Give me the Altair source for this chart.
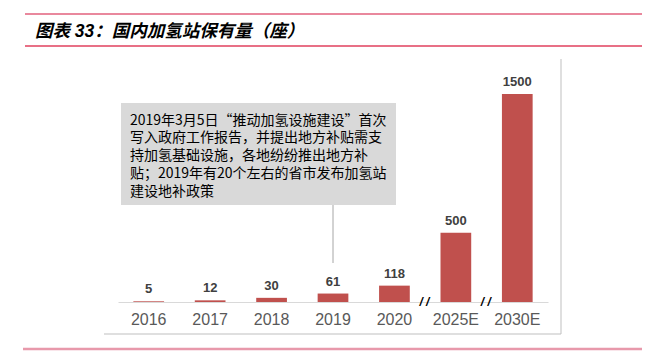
import altair as alt
import pandas as pd

# ---- data ----
years = ["2016", "2017", "2018", "2019", "2020", "2025E", "2030E"]
stations = [5, 12, 30, 61, 118, 500, 1500]
break_after = ["2020", "2025E"]
title_text = "图表 33：国内加氢站保有量（座）"
note_lines = [
    "2019年3月5日“推动加氢设施建设”首次",
    "写入政府工作报告，并提出地方补贴需支",
    "持加氢基础设施，各地纷纷推出地方补",
    "贴；2019年有20个左右的省市发布加氢站",
    "建设地补政策",
]
note_year = "2019"

FONT = '"Liberation Sans", "Noto Sans CJK SC", sans-serif'
CJK = '"Liberation Sans", "Noto Sans CJK SC", sans-serif'
NOTE_FONT = '"Noto Sans CJK SC", "Liberation Sans", sans-serif'

df = pd.DataFrame({"year": years, "n": stations})

x_enc = alt.X(
    "year:N",
    sort=years,
    scale=alt.Scale(paddingInner=0.5, paddingOuter=0.25),
    axis=alt.Axis(
        title=None,
        labelAngle=0,
        labelAlign="center",
        labelBaseline="top",
        labelFontSize=16,
        labelColor="#595959",
        labelFont=FONT,
        labelPadding=9,
        ticks=False,
        domainColor="#d9d9d9",
        domainWidth=1,
        grid=False,
    ),
)
y_enc = alt.Y(
    "n:Q",
    scale=alt.Scale(domain=[0, 1500], nice=False),
    axis=None,
)

base = alt.Chart(df)
bars = base.mark_bar(color="#C0504D").encode(x=x_enc, y=y_enc)
labels = base.mark_text(
    baseline="bottom", dy=-5, fontSize=13, fontWeight="bold", color="#404040", font=FONT
).encode(x=alt.X("year:N", sort=years), y="n:Q", text="n:Q")

# axis break marks
brk = alt.Chart(pd.DataFrame({"year": break_after, "n": [0, 0]})).mark_text(
    text="/ /", dx=30, fontSize=12, fontWeight="bold", fontStyle="italic",
    color="#000000", font=FONT, baseline="middle"
).encode(x=alt.X("year:N", sort=years), y="n:Q")

# annotation box + connector
box = alt.Chart(pd.DataFrame({"k": [0]})).mark_rect(color="#d9d9d9").encode(
    x=alt.value(3), x2=alt.value(278), y=alt.value(9), y2=alt.value(111)
)
note = alt.Chart(pd.DataFrame({"t": ["\n".join(note_lines)]})).mark_text(
    align="left", baseline="top", fontSize=14, lineHeight=17.8, color="#000000",
    font=NOTE_FONT, lineBreak="\n"
).encode(x=alt.value(12), y=alt.value(19.5), text="t:N")
connector = alt.Chart(pd.DataFrame({"year": [note_year]})).mark_rule(
    color="#a6a6a6", strokeWidth=1
).encode(x=alt.X("year:N", sort=years), y=alt.value(111), y2=alt.value(169))

# frame lines
frame_b = alt.Chart(pd.DataFrame({"k": [0]})).mark_rule(color="#bfbfbf", strokeWidth=1).encode(
    x=alt.value(-14), x2=alt.value(443), y=alt.value(240)
)
frame_r = alt.Chart(pd.DataFrame({"k": [0]})).mark_rule(color="#bfbfbf", strokeWidth=1).encode(
    x=alt.value(443), y=alt.value(-35), y2=alt.value(240)
)
top1 = alt.Chart(pd.DataFrame({"k": [0]})).mark_rule(color="#e2607c", strokeWidth=1.5).encode(
    x=alt.value(-93), x2=alt.value(524), y=alt.value(-80)
)
top2 = alt.Chart(pd.DataFrame({"k": [0]})).mark_rule(color="#e0405e", strokeWidth=1.5).encode(
    x=alt.value(-93), x2=alt.value(524), y=alt.value(-48)
)
bot = alt.Chart(pd.DataFrame({"k": [0]})).mark_rule(color="#e899ab", strokeWidth=2.5).encode(
    x=alt.value(-95), x2=alt.value(524), y=alt.value(255)
)
title = alt.Chart(pd.DataFrame({"t": [title_text]})).mark_text(
    align="left", baseline="middle", fontSize=17.5, fontWeight="bold", fontStyle="italic",
    color="#000000", font=CJK
).encode(x=alt.value(-83), y=alt.value(-62), text="t:N")

chart = alt.layer(
    box, note, connector, bars, labels, brk, frame_b, frame_r, top1, top2, bot, title
).properties(
    width=430,
    height=208,
    padding={"left": 118, "top": 94, "right": 109, "bottom": 50},
    autosize=alt.AutoSizeParams(type="none"),
    background="#ffffff",
).configure_view(stroke=None)

chart.save("out.html", embed_options={"renderer": "svg", "actions": False})
